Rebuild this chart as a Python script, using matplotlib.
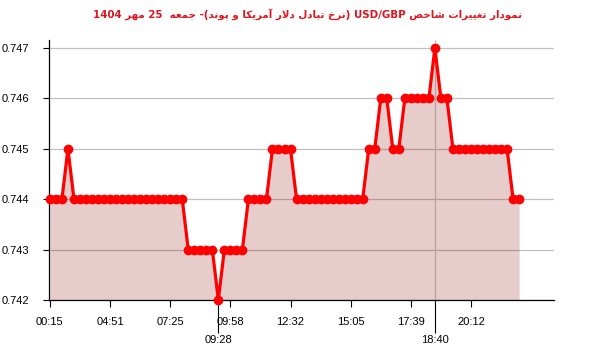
import matplotlib
matplotlib.use('Agg')
import matplotlib.pyplot as plt

# ------------------------------------------------------------------
# Data (one point every ~15 min, x axis is by index)
# ------------------------------------------------------------------
values = [
    0.744, 0.744, 0.744, 0.745, 0.744, 0.744, 0.744, 0.744, 0.744, 0.744,
    0.744, 0.744, 0.744, 0.744, 0.744, 0.744, 0.744, 0.744, 0.744, 0.744,
    0.744, 0.744, 0.744, 0.743, 0.743, 0.743, 0.743, 0.743, 0.742, 0.743,
    0.743, 0.743, 0.743, 0.744, 0.744, 0.744, 0.744, 0.745, 0.745, 0.745,
    0.745, 0.744, 0.744, 0.744, 0.744, 0.744, 0.744, 0.744, 0.744, 0.744,
    0.744, 0.744, 0.744, 0.745, 0.745, 0.746, 0.746, 0.745, 0.745, 0.746,
    0.746, 0.746, 0.746, 0.746, 0.747, 0.746, 0.746, 0.745, 0.745, 0.745,
    0.745, 0.745, 0.745, 0.745, 0.745, 0.745, 0.745, 0.744, 0.744,
]
x = list(range(len(values)))

tick_pos = [0, 10, 20, 30, 40, 50, 60, 70]
tick_labels = ['00:15', '04:51', '07:25', '09:58', '12:32', '15:05', '17:39', '20:12']
extra_pos = [28, 64]                  # min / max points
extra_labels = ['09:28', '18:40']

y_ticks = [0.742, 0.743, 0.744, 0.745, 0.746, 0.747]

title = 'نمودار تغییرات شاخص USD/GBP (نرخ تبادل دلار آمریکا و پوند)- جمعه  25 مهر 1404'


# ------------------------------------------------------------------
# Minimal Persian shaping + RTL ordering (matplotlib has no shaper)
# ------------------------------------------------------------------
# (isolated, final, initial, medial)
FORMS = {
    'ا': ('\uFE8D', '\uFE8E', None, None),
    'آ': ('\uFE81', '\uFE82', None, None),
    'د': ('\uFEA9', '\uFEAA', None, None),
    'ر': ('\uFEAD', '\uFEAE', None, None),
    'و': ('\uFEED', '\uFEEE', None, None),
    'ب': ('\uFE8F', '\uFE90', '\uFE91', '\uFE92'),
    'ت': ('\uFE95', '\uFE96', '\uFE97', '\uFE98'),
    'ج': ('\uFE9D', '\uFE9E', '\uFE9F', '\uFEA0'),
    'خ': ('\uFEA5', '\uFEA6', '\uFEA7', '\uFEA8'),
    'ش': ('\uFEB5', '\uFEB6', '\uFEB7', '\uFEB8'),
    'ص': ('\uFEB9', '\uFEBA', '\uFEBB', '\uFEBC'),
    'ع': ('\uFEC9', '\uFECA', '\uFECB', '\uFECC'),
    'غ': ('\uFECD', '\uFECE', '\uFECF', '\uFED0'),
    'ل': ('\uFEDD', '\uFEDE', '\uFEDF', '\uFEE0'),
    'م': ('\uFEE1', '\uFEE2', '\uFEE3', '\uFEE4'),
    'ن': ('\uFEE5', '\uFEE6', '\uFEE7', '\uFEE8'),
    'ه': ('\uFEE9', '\uFEEA', '\uFEEB', '\uFEEC'),
    'پ': ('\uFB56', '\uFB57', '\uFB58', '\uFB59'),
    'ک': ('\uFB8E', '\uFB8F', '\uFB90', '\uFB91'),
    'ی': ('\uFBFC', '\uFBFD', '\uFBFE', '\uFBFF'),
}
LAM_ALEF = {'ا': ('\uFEFB', '\uFEFC'), 'آ': ('\uFEF5', '\uFEF6')}


def shape(text):
    out = []
    i = 0
    while i < len(text):
        ch = text[i]
        if ch not in FORMS:
            out.append(ch)
            i += 1
            continue
        prev = text[i - 1] if i > 0 else ''
        nxt = text[i + 1] if i + 1 < len(text) else ''
        join_prev = prev in FORMS and FORMS[prev][2] is not None
        if ch == 'ل' and nxt in LAM_ALEF:
            out.append(LAM_ALEF[nxt][1 if join_prev else 0])
            i += 2
            continue
        join_next = nxt in FORMS and FORMS[ch][2] is not None
        iso, fin, ini, med = FORMS[ch]
        if join_prev and join_next:
            out.append(med)
        elif join_prev:
            out.append(fin)
        elif join_next:
            out.append(ini)
        else:
            out.append(iso)
        i += 1
    return ''.join(out)


def rtl(text):
    text = shape(text)
    units = []
    i = 0
    while i < len(text):
        if text[i].isascii() and text[i].isalnum():
            j = i
            while j < len(text) and ((text[j].isascii() and text[j].isalnum()) or
                                     (text[j] == '/' and j + 1 < len(text) and text[j + 1].isalnum())):
                j += 1
            units.append(text[i:j])
            i = j
        else:
            units.append({'(': ')', ')': '('}.get(text[i], text[i]))
            i += 1
    return ''.join(reversed(units))


# ------------------------------------------------------------------
# Plot
# ------------------------------------------------------------------
W, H = 600, 352
fig = plt.figure(figsize=(W / 100, H / 100), dpi=100)
ax = fig.add_axes([49 / W, 52 / H, (554 - 49) / W, (300 - 40) / H])

ax.fill_between(x, values, 0.742, color='darkred', alpha=0.2, linewidth=0, zorder=2)
ax.plot(x, values, color='#ff0000', linewidth=2.3, marker='o', markersize=6,
        zorder=4, clip_on=False)
ax.axvline(extra_pos[1], color='#c8c8c8', linewidth=0.9, zorder=1)

ax.set_xlim(-0.15, 83.8)
ax.set_ylim(0.742, 0.74716)

ax.set_yticks(y_ticks)
ax.set_yticklabels([f'{v:.3f}' for v in y_ticks])
ax.yaxis.grid(True, color='#c0c0c0', linewidth=0.9, zorder=0)
ax.set_axisbelow(True)

ax.set_xticks(tick_pos)
ax.set_xticklabels(tick_labels)
ax.set_xticks(extra_pos, minor=True)
ax.set_xticklabels(extra_labels, minor=True)

for lab in ax.get_xticklabels(which='both') + ax.get_yticklabels():
    lab.set_family('Liberation Sans')
    lab.set_fontsize(8)

ax.tick_params(axis='y', length=4, width=0.8, pad=10)
ax.tick_params(axis='x', which='major', length=5, width=0.8, pad=7)
ax.tick_params(axis='x', which='minor', length=24, width=0.8, pad=1)
ax.xaxis.get_minor_ticks()[1].tick1line.set_color('#c8c8c8')

for s in ['top', 'right']:
    ax.spines[s].set_visible(False)
for s in ['left', 'bottom']:
    ax.spines[s].set_color('black')
    ax.spines[s].set_linewidth(0.9)

fig.text(307.5 / W, 1 - 15 / H, rtl(title), ha='center', va='center',
         color='#e0141c', fontsize=7.4, fontweight='bold', family='DejaVu Sans')

fig.savefig('out.png', dpi=100)
